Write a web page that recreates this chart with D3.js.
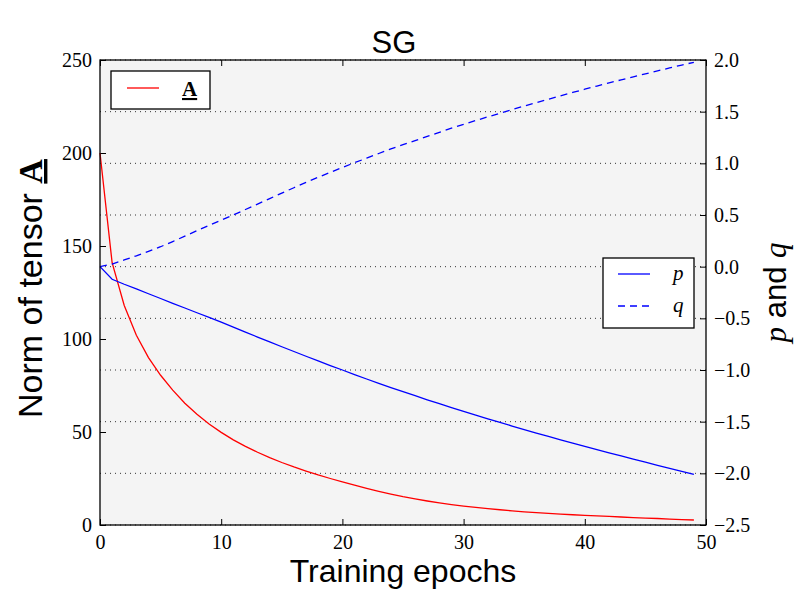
<!DOCTYPE html>
<html lang="en">
<head>
    <meta charset="UTF-8">
    <title>SG</title>
    <style>
        body { margin: 0; background: #fff; }
        .tick text { font-family: "Liberation Serif", serif; font-size: 20px; fill: #000; }
        .tick line { stroke: #000; }
        .domain { display: none; }
        .lbl { font-family: "Liberation Sans", Arial, sans-serif; fill: #000; }
    </style>
</head>
<body>
    <script src="https://d3js.org/d3.v7.min.js"></script>
    <script>
        var width = 800;
        var height = 600;
        var margin = { left: 100, right: 94, top: 60, bottom: 75 };

        // data
        var epochs = d3.range(0, 50);
        var normA = [200, 141, 118, 102, 90, 80.5, 72.5, 65.5, 59.5, 54.3,
            49.8, 45.8, 42.3, 39.1, 36.2, 33.6, 31.2, 29.0, 26.9, 25.0,
            23.2, 21.4, 19.7, 18.1, 16.6, 15.2, 14.0, 12.9, 11.9, 11.0,
            10.2, 9.5, 8.8, 8.2, 7.6, 7.1, 6.6, 6.2, 5.8, 5.5,
            5.2, 4.9, 4.6, 4.3, 4.0, 3.7, 3.5, 3.2, 2.9, 2.7];
        var pVals = [0, -0.122, -0.17, -0.215, -0.262, -0.308, -0.355, -0.40, -0.446, -0.49,
            -0.537, -0.585, -0.633, -0.681, -0.728, -0.775, -0.821, -0.867, -0.912, -0.957,
            -1.0, -1.044, -1.087, -1.129, -1.17, -1.21, -1.249, -1.288, -1.326, -1.363,
            -1.40, -1.436, -1.472, -1.507, -1.542, -1.576, -1.61, -1.643, -1.676, -1.708,
            -1.74, -1.771, -1.802, -1.832, -1.862, -1.892, -1.922, -1.951, -1.98, -2.01];
        var qVals = [0, 0.025, 0.065, 0.105, 0.148, 0.193, 0.243, 0.295, 0.348, 0.40,
            0.45, 0.50, 0.553, 0.606, 0.659, 0.712, 0.764, 0.815, 0.865, 0.913,
            0.96, 1.006, 1.05, 1.095, 1.14, 1.18, 1.22, 1.26, 1.30, 1.34,
            1.378, 1.414, 1.45, 1.485, 1.52, 1.554, 1.588, 1.621, 1.654, 1.686,
            1.717, 1.748, 1.778, 1.808, 1.837, 1.866, 1.895, 1.923, 1.951, 1.978];
        var xTicks = [0, 10, 20, 30, 40, 50];
        var leftTicks = [0, 50, 100, 150, 200, 250];
        var rightTicks = [-2.5, -2.0, -1.5, -1.0, -0.5, 0.0, 0.5, 1.0, 1.5, 2.0];

        var w = width - margin.left - margin.right;
        var h = height - margin.top - margin.bottom;

        var svg = d3.select('body').append('svg').attr('width', width).attr('height', height);
        var g = svg.append('g').attr('transform', 'translate(' + margin.left + ',' + margin.top + ')');

        var x = d3.scaleLinear().domain([0, 50]).range([0, w]);
        var yL = d3.scaleLinear().domain([0, 250]).range([h, 0]);
        var yR = d3.scaleLinear().domain([-2.5, 2.0]).range([h, 0]);

        g.append('rect').attr('width', w).attr('height', h).attr('fill', '#f4f4f4');

        // dotted grid from right axis
        g.selectAll('.grid').data(rightTicks).enter().append('line')
            .attr('x1', 0).attr('x2', w)
            .attr('y1', function (d) { return yR(d); })
            .attr('y2', function (d) { return yR(d); })
            .attr('stroke', '#333').attr('stroke-width', 1)
            .attr('stroke-dasharray', '1,4');

        // axes with inward ticks
        g.append('g').attr('transform', 'translate(0,' + h + ')')
            .call(d3.axisBottom(x).tickValues(xTicks).tickSize(-6).tickPadding(10).tickFormat(d3.format('d')));
        g.append('g')
            .call(d3.axisTop(x).tickValues(xTicks).tickSize(-6).tickFormat(''));
        g.append('g')
            .call(d3.axisLeft(yL).tickValues(leftTicks).tickSize(-6).tickPadding(8).tickFormat(d3.format('d')));
        g.append('g').attr('transform', 'translate(' + w + ',0)')
            .call(d3.axisRight(yR).tickValues(rightTicks).tickSize(-6).tickPadding(8).tickFormat(d3.format('.1f')));

        var lineA = d3.line().x(function (d, i) { return x(epochs[i]); }).y(function (d) { return yL(d); });
        var lineR = d3.line().x(function (d, i) { return x(epochs[i]); }).y(function (d) { return yR(d); });

        g.append('path').datum(normA).attr('d', lineA)
            .attr('fill', 'none').attr('stroke', '#ff0000').attr('stroke-width', 1.3);
        g.append('path').datum(pVals).attr('d', lineR)
            .attr('fill', 'none').attr('stroke', '#0000ff').attr('stroke-width', 1.3);
        g.append('path').datum(qVals).attr('d', lineR)
            .attr('fill', 'none').attr('stroke', '#0000ff').attr('stroke-width', 1.3)
            .attr('stroke-dasharray', '7,5');

        // frame
        g.append('rect').attr('width', w).attr('height', h)
            .attr('fill', 'none').attr('stroke', '#000').attr('stroke-width', 1.3);

        // legend A
        var lg1 = g.append('g').attr('transform', 'translate(11,11)');
        lg1.append('rect').attr('width', 99).attr('height', 38)
            .attr('fill', '#fff').attr('stroke', '#000').attr('stroke-width', 1.3);
        lg1.append('line').attr('x1', 16).attr('x2', 48).attr('y1', 17).attr('y2', 17)
            .attr('stroke', '#ff0000').attr('stroke-width', 1.3);
        lg1.append('text').attr('x', 71).attr('y', 25)
            .attr('font-family', 'Liberation Serif').attr('font-weight', 'bold').attr('font-size', 21)
            .attr('text-decoration', 'underline').text('A');

        // legend p, q
        var lg2 = g.append('g').attr('transform', 'translate(' + (w - 103) + ',198)');
        lg2.append('rect').attr('width', 91).attr('height', 70)
            .attr('fill', '#fff').attr('stroke', '#000').attr('stroke-width', 1.3);
        lg2.append('line').attr('x1', 15).attr('x2', 47).attr('y1', 16).attr('y2', 16)
            .attr('stroke', '#0000ff').attr('stroke-width', 1.3);
        lg2.append('line').attr('x1', 15).attr('x2', 47).attr('y1', 48).attr('y2', 48)
            .attr('stroke', '#0000ff').attr('stroke-width', 1.3).attr('stroke-dasharray', '7,5');
        lg2.append('text').attr('x', 70).attr('y', 22)
            .attr('font-family', 'Liberation Serif').attr('font-style', 'italic').attr('font-size', 21).text('p');
        lg2.append('text').attr('x', 70).attr('y', 54)
            .attr('font-family', 'Liberation Serif').attr('font-style', 'italic').attr('font-size', 21).text('q');

        // titles
        svg.append('text').attr('class', 'lbl').attr('x', 394).attr('y', 53)
            .attr('text-anchor', 'middle').attr('font-size', 31).text('SG');
        svg.append('text').attr('class', 'lbl').attr('x', margin.left + w / 2).attr('y', 582)
            .attr('text-anchor', 'middle').attr('font-size', 32).text('Training epochs');

        var yl = svg.append('text').attr('class', 'lbl')
            .attr('transform', 'translate(42,' + (margin.top + h / 2 - 4) + ') rotate(-90)')
            .attr('text-anchor', 'middle').attr('font-size', 34);
        yl.append('tspan').text('Norm of tensor ');
        yl.append('tspan').attr('font-family', 'Liberation Serif').attr('font-weight', 'bold')
            .attr('text-decoration', 'underline').text('A');

        var yr = svg.append('text').attr('class', 'lbl')
            .attr('transform', 'translate(786,' + (margin.top + h / 2) + ') rotate(-90)')
            .attr('text-anchor', 'middle').attr('font-size', 31);
        yr.append('tspan').attr('font-family', 'Liberation Serif').attr('font-style', 'italic').text('p');
        yr.append('tspan').text(' and ');
        yr.append('tspan').attr('font-family', 'Liberation Serif').attr('font-style', 'italic').text('q');
    </script>
</body>
</html>
